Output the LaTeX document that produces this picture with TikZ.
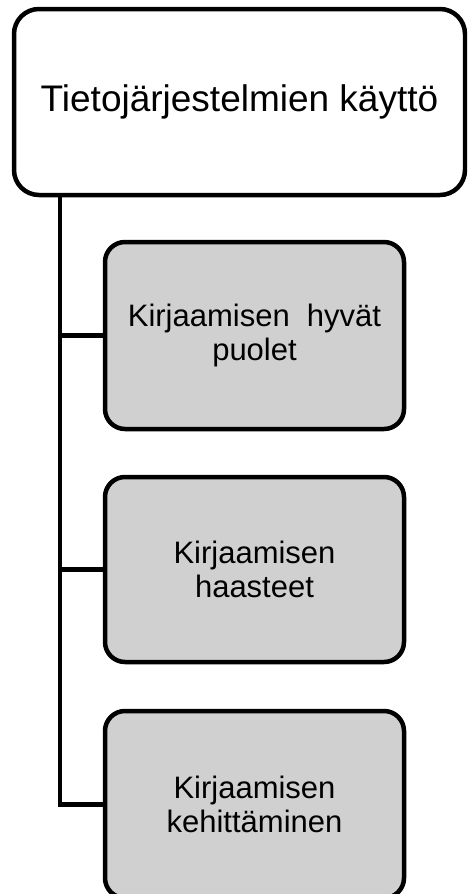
\documentclass[tikz,border=0pt]{standalone}
\usepackage{fontspec}
\setmainfont{Liberation Sans}
\begin{document}
\begin{tikzpicture}[x=1pt,y=-1pt,
  topbox/.style={draw=black, line width=4.5pt, fill=white, rounded corners=25pt,
    inner sep=0pt, outer sep=0pt, minimum width=451pt, minimum height=186pt,
    align=center, font=\fontsize{37}{42}\selectfont},
  childbox/.style={draw=black, line width=4.5pt, fill=boxgray, rounded corners=20pt,
    inner sep=0pt, outer sep=0pt, minimum width=299pt,
    align=center, font=\fontsize{31}{34.5}\selectfont},
  link/.style={draw=black, line width=4.5pt, line join=miter}]
\definecolor{boxgray}{RGB}{208,208,208}
\useasboundingbox (0,0) rectangle (467,894);
\begin{scope}
\clip (0,0) rectangle (467,894);
\node[topbox] (top) at (239.5,102) {Tietojärjestelmien käyttö};
\node[childbox, minimum height=187pt] (b1) at (254.5,335.5) {Kirjaamisen\ \ hyvät\\puolet};
\node[childbox, minimum height=185pt] (b2) at (254.5,569.5) {Kirjaamisen\\haasteet};
\node[childbox, minimum height=187pt] (b3) at (254.5,804.5) {Kirjaamisen\\kehittäminen};
\coordinate (t) at (60,195);
\draw[link] (t) |- (b3.west);
\draw[link] (t |- b1.west) -- (b1.west);
\draw[link] (t |- b2.west) -- (b2.west);
\end{scope}
\end{tikzpicture}
\end{document}
